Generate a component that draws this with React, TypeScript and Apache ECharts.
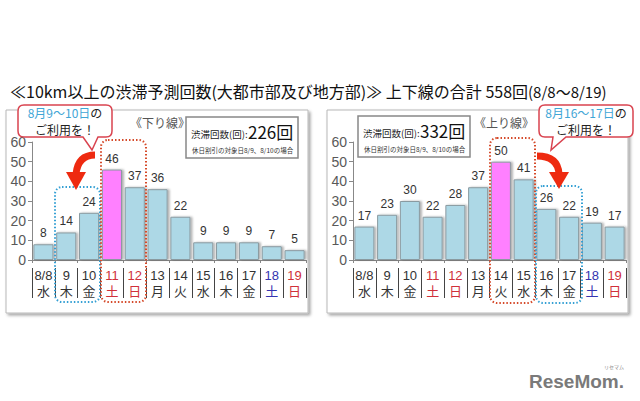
import React, { useEffect, useRef } from "react";
import * as echarts from "echarts";

const dates = ["8/8", "9", "10", "11", "12", "13", "14", "15", "16", "17", "18", "19"];
const weekdays = ["水", "木", "金", "土", "日", "月", "火", "水", "木", "金", "土", "日"];
const holidayIdx = [3, 4, 11];
const blueSatIdx = [10];
const downValues = [8, 14, 24, 46, 37, 36, 22, 9, 9, 9, 7, 5];
const upValues = [17, 23, 30, 22, 28, 37, 50, 41, 26, 22, 19, 17];
const downPeakIdx = 3;
const upPeakIdx = 6;
const yMax = 60;
const yInterval = 10;

const FONT = "'Liberation Sans', 'Noto Sans CJK JP', sans-serif";
const CJK = "'Noto Sans CJK JP', 'Liberation Sans', sans-serif";

const sum = (a: number[]) => a.reduce((s, v) => s + v, 0);

function labelFormatter(_v: string, i: number) {
  const k = holidayIdx.includes(i) ? "r" : blueSatIdx.includes(i) ? "b" : "k";
  return `{${k}|${dates[i]}}\n{${k}|${weekdays[i]}}`;
}

const rich = {
  k: { color: "#333", fontSize: 13, lineHeight: 16, fontFamily: FONT },
  r: { color: "#d0303a", fontSize: 13, lineHeight: 16, fontFamily: FONT },
  b: { color: "#3434b0", fontSize: 13, lineHeight: 16, fontFamily: FONT },
};

function xAxes(gridIndex: number) {
  return [
    {
      gridIndex,
      type: "category",
      data: dates,
      position: "bottom",
      axisLine: { lineStyle: { color: "#888" } },
      axisTick: { show: true, length: 3, lineStyle: { color: "#888" } },
      axisLabel: { interval: 0, margin: 7, formatter: labelFormatter, rich },
    },
    {
      gridIndex,
      type: "category",
      data: dates,
      position: "bottom",
      offset: 8,
      axisLine: { show: false },
      axisTick: { show: true, length: 30, interval: 0, lineStyle: { color: "#444" } },
      axisLabel: { show: false },
    },
  ];
}

function yAxis(gridIndex: number) {
  return {
    gridIndex,
    type: "value",
    min: 0,
    max: yMax,
    interval: yInterval,
    axisLine: { show: true, lineStyle: { color: "#888" } },
    axisTick: { show: true, length: 4, lineStyle: { color: "#888" } },
    splitLine: { show: false },
    axisLabel: { fontSize: 14, color: "#595959", margin: 6, fontFamily: FONT },
  };
}

function barSeries(values: number[], peak: number, axisIdx: number, yIdx: number) {
  return {
    type: "bar",
    xAxisIndex: axisIdx,
    yAxisIndex: yIdx,
    barCategoryGap: "12%",
    data: values.map((v, i) => ({
      value: v,
      itemStyle: { color: i === peak ? "#ff80ff" : "#add8e6" },
    })),
    itemStyle: {
      borderColor: "#8a9aa0",
      borderWidth: 1,
      shadowColor: "rgba(0,0,0,0.3)",
      shadowBlur: 2,
      shadowOffsetX: 2,
      shadowOffsetY: 0,
    },
    label: { show: true, position: "top", distance: 5, fontSize: 12, color: "#333", fontFamily: FONT },
  };
}

echarts.graphic.registerShape(
  "bubbleL",
  echarts.graphic.extendPath(
    "M24,105 H106 Q112,105 112,111 V131 Q112,137 106,137 H98 L92,150 L83,137 H24 Q18,137 18,131 V111 Q18,105 24,105 Z",
    {}
  )
);
echarts.graphic.registerShape(
  "bubbleR",
  echarts.graphic.extendPath(
    "M545,105 H627 Q633,105 633,111 V131 Q633,137 627,137 H566 L551,150 L553,137 H545 Q539,137 539,131 V111 Q539,105 545,105 Z",
    {}
  )
);

function panel(x: number, y: number, w: number, h: number) {
  return {
    type: "rect",
    z: -5,
    shape: { x, y, width: w, height: h },
    style: {
      fill: "#fff",
      stroke: "#b8b8b8",
      lineWidth: 1,
      shadowColor: "rgba(0,0,0,0.35)",
      shadowBlur: 3,
      shadowOffsetX: 2,
      shadowOffsetY: 2,
    },
  };
}

function dotted(x: number, y: number, w: number, h: number, color: string) {
  return {
    type: "rect",
    z: 20,
    shape: { x, y, width: w, height: h, r: 7 },
    style: { fill: "none", stroke: color, lineWidth: 2, lineDash: [1.5, 2] },
  };
}

function summary(x: number, y: number, total: number) {
  return [
    {
      type: "rect",
      z: 20,
      shape: { x, y, width: 112, height: 41 },
      style: { fill: "#fff", stroke: "#888", lineWidth: 1.5 },
    },
    {
      type: "text",
      z: 21,
      x: x + 5,
      y: y + 17,
      style: { text: "渋滞回数(回):", fontSize: 9.5, fill: "#222", fontFamily: CJK, verticalAlign: "middle" },
    },
    {
      type: "text",
      z: 21,
      x: x + 62,
      y: y + 14,
      style: { text: `${total}回`, fontSize: 17, fill: "#111", fontFamily: CJK, verticalAlign: "middle" },
    },
    {
      type: "text",
      z: 21,
      x: x + 6,
      y: y + 33,
      style: { text: "休日割引の対象日8/9、8/10の場合", fontSize: 6.5, fill: "#333", fontFamily: CJK, verticalAlign: "middle" },
    },
  ];
}

function bubbleText(cx: number, range: string) {
  return [
    {
      type: "text",
      z: 31,
      x: cx,
      y: 112,
      style: {
        text: `{b|${range}}{k|の}`,
        align: "center",
        verticalAlign: "middle",
        rich: {
          b: { fontSize: 12, fill: "#3fa6d6", fontFamily: CJK },
          k: { fontSize: 12, fill: "#222", fontFamily: CJK },
        },
      },
    },
    {
      type: "text",
      z: 31,
      x: cx,
      y: 129,
      style: { text: "ご利用を！", fontSize: 12, fill: "#222", fontFamily: CJK, align: "center", verticalAlign: "middle" },
    },
  ];
}

export default function App() {
  const ref = useRef<HTMLDivElement>(null);
  useEffect(() => {
    if (!ref.current) return;
    const chart = echarts.init(ref.current, undefined, { renderer: "svg" });
    const arrowColor = "#ee2a10";
    chart.setOption({
      animation: false,
      backgroundColor: "#fff",
      grid: [
        { left: 32, top: 142, width: 274, height: 118 },
        { left: 353, top: 142, width: 273, height: 118 },
      ],
      xAxis: [...xAxes(0), ...xAxes(1)],
      yAxis: [yAxis(0), yAxis(1)],
      series: [barSeries(downValues, downPeakIdx, 0, 0), barSeries(upValues, upPeakIdx, 2, 1)],
      graphic: [
        panel(6, 110, 302, 203),
        panel(327, 110, 301, 203),
        {
          type: "text",
          z: 10,
          x: 10,
          y: 91,
          style: {
            text: `{a|≪10km以上の渋滞予測回数(大都市部及び地方部)≫ 上下線の合計 ${sum(downValues) + sum(upValues)}回}{s|(8/8～8/19)}`,
            verticalAlign: "middle",
            rich: {
              a: { fontSize: 16, fill: "#111", fontFamily: CJK },
              s: { fontSize: 15, fill: "#111", fontFamily: CJK },
            },
          },
        },
        {
          type: "text",
          z: 10,
          x: 130,
          y: 122,
          style: { text: "《下り線》", fontSize: 12, fill: "#555", fontFamily: CJK, verticalAlign: "middle" },
        },
        {
          type: "text",
          z: 10,
          x: 474,
          y: 122,
          style: { text: "《上り線》", fontSize: 12, fill: "#555", fontFamily: CJK, verticalAlign: "middle" },
        },
        ...summary(186, 117, sum(downValues)),
        ...summary(358, 116, sum(upValues)),
        dotted(55, 187, 45, 115, "#35a0d4"),
        dotted(101, 140, 45, 162, "#d54a2a"),
        dotted(490, 138, 45, 165, "#d54a2a"),
        dotted(536, 186, 46, 117, "#35a0d4"),
        { type: "bubbleL", z: 30, x: 0, y: 0, style: { fill: "#fff", stroke: "#d9434f", lineWidth: 1.5 } },
        { type: "bubbleR", z: 30, x: 0, y: 0, style: { fill: "#fff", stroke: "#d9434f", lineWidth: 1.5 } },
        ...bubbleText(65, "8月9～10日"),
        ...bubbleText(586, "8月16～17日"),
        {
          type: "bezierCurve",
          z: 25,
          shape: { x1: 95, y1: 155, cpx1: 78, cpy1: 155, x2: 76, y2: 174 },
          style: { stroke: arrowColor, lineWidth: 7, fill: "none" },
        },
        {
          type: "polygon",
          z: 25,
          shape: { points: [[66, 172], [86, 172], [76, 190]] },
          style: { fill: arrowColor },
        },
        {
          type: "bezierCurve",
          z: 25,
          shape: { x1: 537, y1: 156, cpx1: 558, cpy1: 156, x2: 559, y2: 174 },
          style: { stroke: arrowColor, lineWidth: 7, fill: "none" },
        },
        {
          type: "polygon",
          z: 25,
          shape: { points: [[549, 172], [569, 172], [559, 189]] },
          style: { fill: arrowColor },
        },
        {
          type: "text",
          z: 10,
          x: 529,
          y: 381,
          style: {
            text: "ReseMom.",
            fontSize: 19,
            fontWeight: "bold",
            fill: "#7a7a7a",
            fontFamily: "'Liberation Sans', sans-serif",
            verticalAlign: "middle",
          },
        },
        {
          type: "text",
          z: 10,
          x: 604,
          y: 366,
          style: { text: "リセマム", fontSize: 5, fill: "#888", fontFamily: CJK, verticalAlign: "middle" },
        },
      ],
    });
    return () => chart.dispose();
  }, []);
  return <div ref={ref} style={{ position: "fixed", left: 0, top: 0, width: 640, height: 401 }} />;
}
